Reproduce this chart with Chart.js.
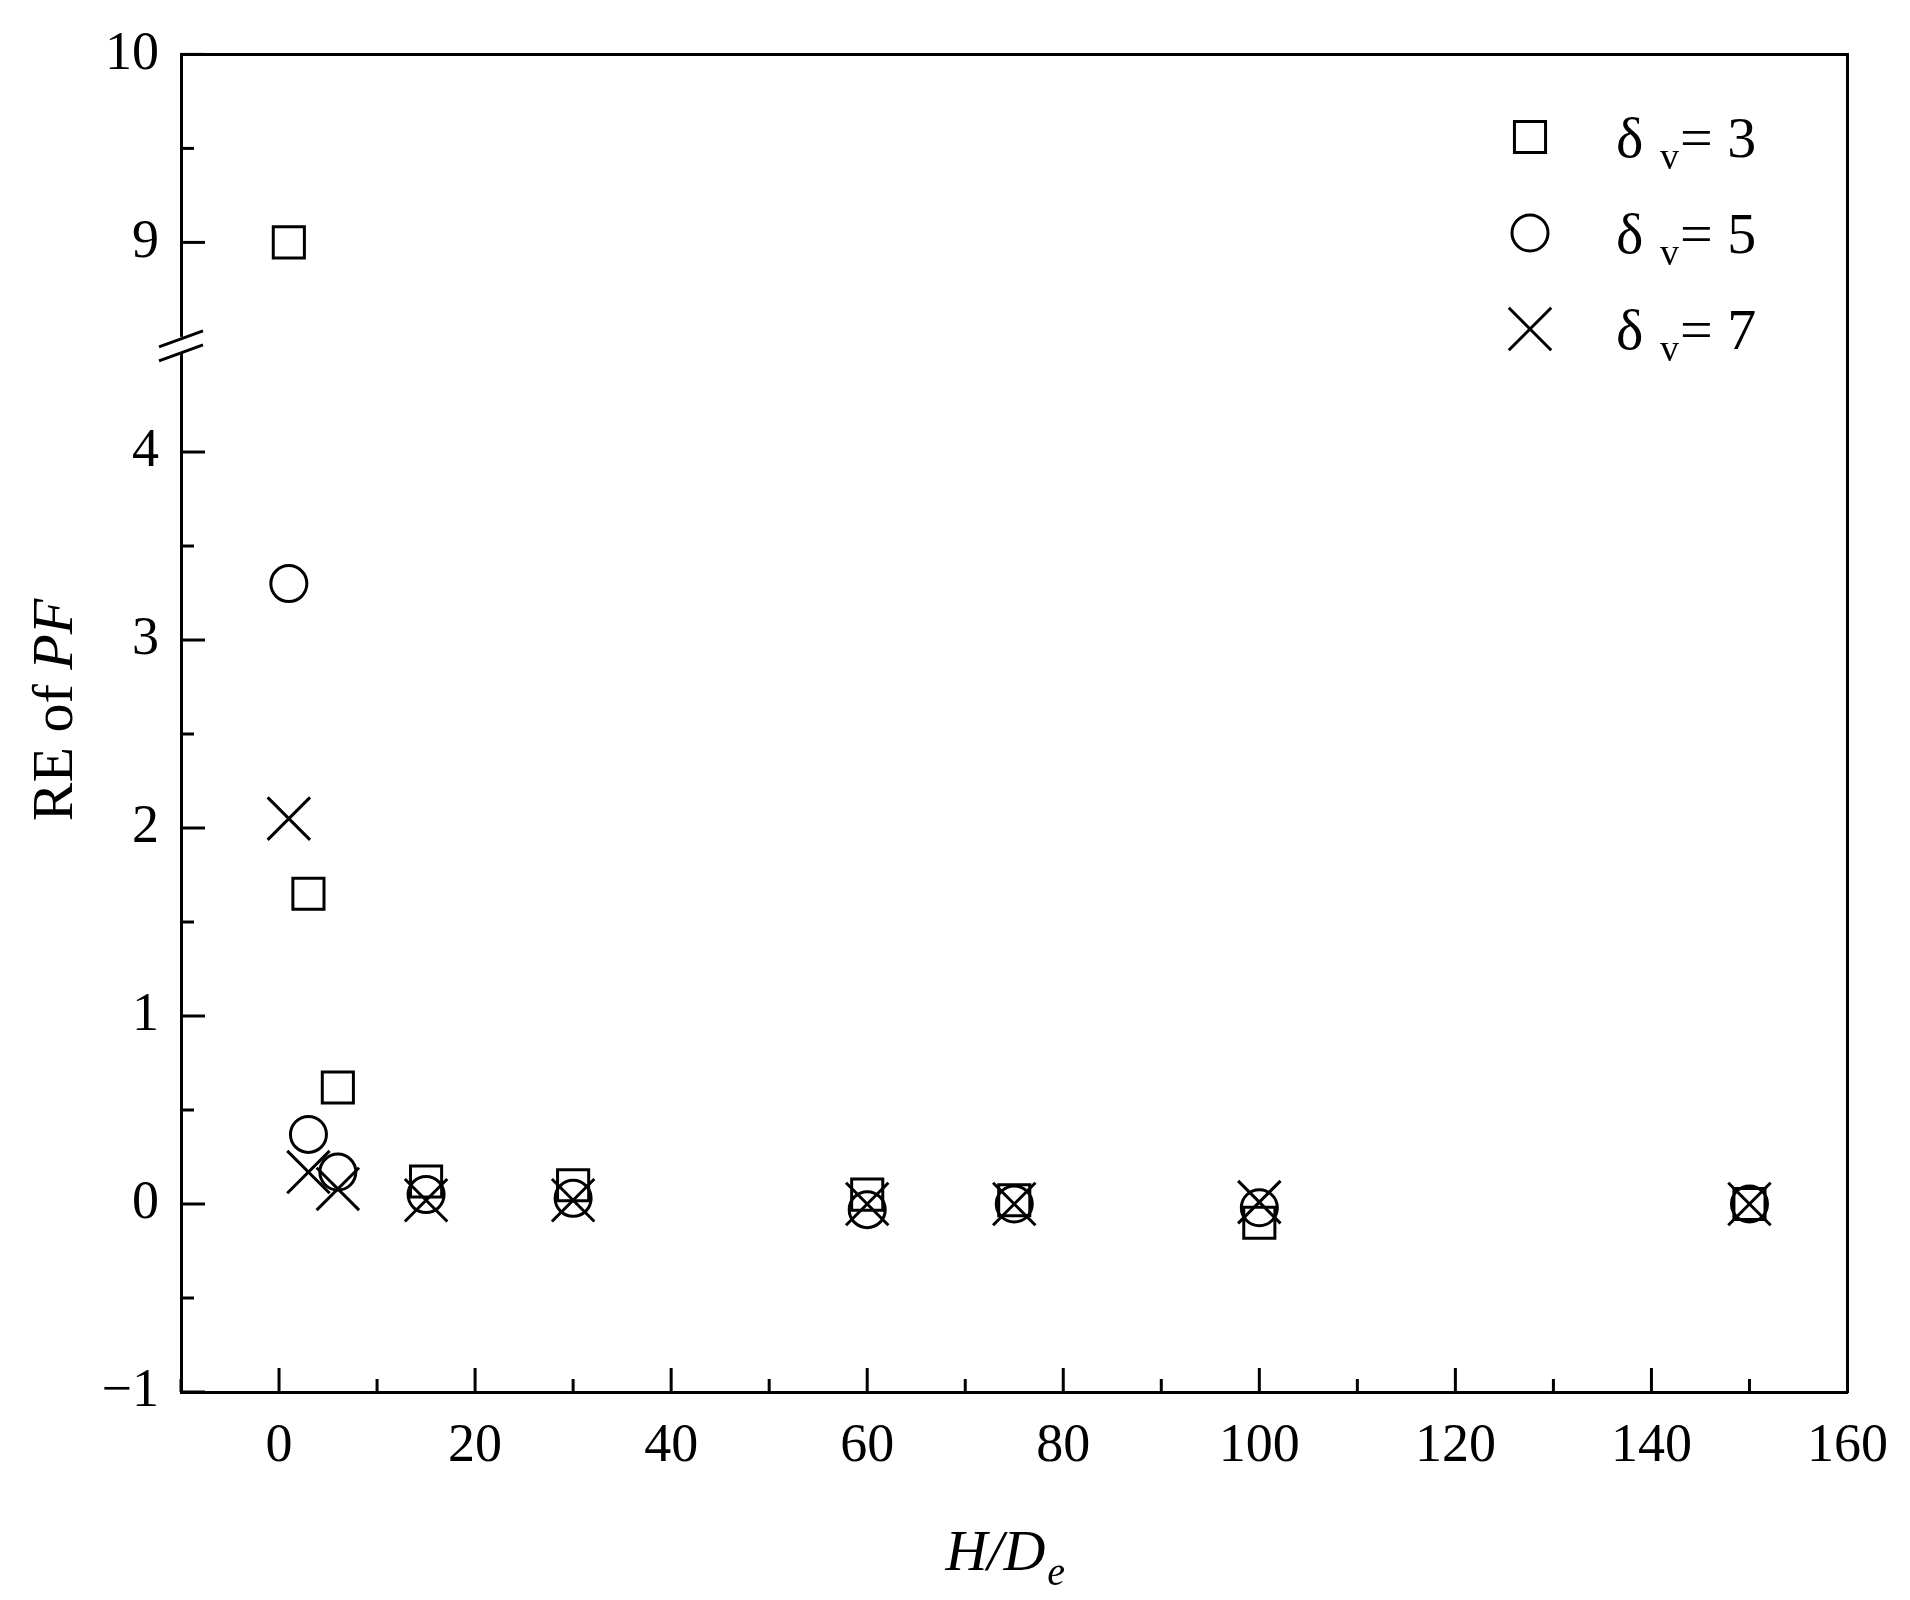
<!DOCTYPE html>
<html lang="en">
<head>
<meta charset="UTF-8">
<title>RE of PF vs H/De</title>
<script src="https://cdn.jsdelivr.net/npm/chart.js"></script>
<style>
  html, body { margin: 0; padding: 0; background: #fff; }
  #wrap { width: 1910px; height: 1600px; }
</style>
</head>
<body>
<div id="wrap"><canvas id="chart"></canvas></div>
<script>
// data
const hOverDe = [1, 3, 6, 15, 30, 60, 75, 100, 150];
const reDelta3 = [9.0, 1.65, 0.62, 0.12, 0.10, 0.05, 0.02, -0.10, 0.00];
const reDelta5 = [3.30, 0.37, 0.17, 0.05, 0.03, -0.03, 0.00, -0.02, 0.00];
const reDelta7 = [2.05, 0.17, 0.08, 0.02, 0.02, 0.00, 0.00, 0.01, 0.00];
const seriesLabels = ["3", "5", "7"];
const xMajorTicks = [0, 20, 40, 60, 80, 100, 120, 140, 160];
const yMajorTicks = [-1, 0, 1, 2, 3, 4, 9, 10];

// broken y axis: values above the break are shifted down
const BREAK_SHIFT = 3.885;
const BREAK_AT = 4.57;
const toAxis = v => (v > 4.6 ? v - BREAK_SHIFT : v);
const fromAxis = v => (v > BREAK_AT ? v + BREAK_SHIFT : v);

const pts = arr => hOverDe.map((x, i) => ({ x, y: toAxis(arr[i]) }));

const FONT = "'Liberation Serif', 'Times New Roman', serif";

const yMinor = [-0.5, 0.5, 1.5, 2.5, 3.5, 9.5];
const xMinor = [-10, 10, 30, 50, 70, 90, 110, 130, 150];

const decor = {
  id: "decor",
  afterDraw(chart) {
    const { ctx, chartArea: a, scales } = chart;
    const xs = scales.x, ys = scales.y;
    ctx.save();
    ctx.strokeStyle = "#000";
    ctx.lineWidth = 3;
    // inward ticks
    const yt = (v, len) => {
      const p = ys.getPixelForValue(toAxis(v));
      ctx.beginPath(); ctx.moveTo(a.left, p); ctx.lineTo(a.left + len, p); ctx.stroke();
    };
    yMajorTicks.forEach(v => yt(v, 24));
    yMinor.forEach(v => yt(v, 13));
    const xt = (v, len) => {
      const p = xs.getPixelForValue(v);
      ctx.beginPath(); ctx.moveTo(p, a.bottom); ctx.lineTo(p, a.bottom - len); ctx.stroke();
    };
    xMajorTicks.forEach(v => xt(v, 24));
    xMinor.forEach(v => xt(v, 13));

    // axis break
    const bp = ys.getPixelForValue(BREAK_AT);
    ctx.fillStyle = "#fff";
    ctx.fillRect(a.left - 6, bp - 8, 12, 16);
    ctx.beginPath();
    ctx.moveTo(a.left - 22, bp + 2); ctx.lineTo(a.left + 22, bp - 14);
    ctx.moveTo(a.left - 22, bp + 16); ctx.lineTo(a.left + 22, bp);
    ctx.stroke();

    // axis titles
    ctx.fillStyle = "#000";
    ctx.textBaseline = "alphabetic";
    ctx.save();
    ctx.translate(72, 710);
    ctx.rotate(-Math.PI / 2);
    const t1 = "RE of ";
    ctx.font = "58px " + FONT;
    const w1 = ctx.measureText(t1).width;
    ctx.font = "italic 58px " + FONT;
    const w2 = ctx.measureText("PF").width;
    const sx = -(w1 + w2) / 2;
    ctx.font = "58px " + FONT;
    ctx.fillText(t1, sx, 0);
    ctx.font = "italic 58px " + FONT;
    ctx.fillText("PF", sx + w1, 0);
    ctx.restore();

    ctx.font = "italic 58px " + FONT;
    const xw = ctx.measureText("H/D").width;
    ctx.font = "italic 40px " + FONT;
    const ew = ctx.measureText("e").width;
    const xs0 = (a.left + a.right) / 2 - (xw + ew) / 2 - 10;
    ctx.font = "italic 58px " + FONT;
    ctx.fillText("H/D", xs0, 1570);
    ctx.font = "italic 40px " + FONT;
    ctx.fillText("e", xs0 + xw + 2, 1585);

    // legend
    chart.data.datasets.forEach((ds, i) => {
      const y = 137 + i * 96;
      ctx.save();
      ctx.fillStyle = "rgba(0,0,0,0)";
      ctx.strokeStyle = "#000";
      ctx.lineWidth = 3;
      Chart.helpers.drawPoint(ctx, {
        pointStyle: ds.pointStyle, radius: ds.pointRadius, rotation: 0, borderWidth: 3
      }, 1530, y);
      ctx.restore();
      ctx.fillStyle = "#000";
      ctx.font = "58px " + FONT;
      ctx.fillText("\u03b4", 1616, y + 20);
      ctx.font = "38px " + FONT;
      ctx.fillText("v", 1660, y + 32);
      ctx.font = "58px " + FONT;
      ctx.fillText("= " + seriesLabels[i], 1680, y + 20);
    });
    ctx.restore();
  }
};

const mk = (data, style, r) => ({
  data: pts(data),
  pointStyle: style,
  pointRadius: r,
  pointHoverRadius: r,
  pointBorderWidth: 3,
  pointBorderColor: "#000",
  pointBackgroundColor: "rgba(0,0,0,0)",
  showLine: false
});

new Chart(document.getElementById("chart"), {
  type: "scatter",
  data: {
    datasets: [
      mk(reDelta3, "rect", 22),
      mk(reDelta5, "circle", 18),
      mk(reDelta7, "crossRot", 30)
    ]
  },
  options: {
    responsive: true,
    maintainAspectRatio: false,
    animation: false,
    devicePixelRatio: 1,
    layout: { padding: { left: 10, right: 43, top: 19, bottom: 10 } },
    plugins: { legend: { display: false }, tooltip: { enabled: false } },
    scales: {
      x: {
        type: "linear",
        min: -10, max: 160,
        afterFit: s => { s.height = 198; },
        afterBuildTicks: s => { s.ticks = xMajorTicks.map(v => ({ value: v })); },
        grid: { display: false, drawTicks: false },
        border: { color: "#000", width: 3 },
        ticks: { color: "#000", font: { family: FONT, size: 54 }, padding: 22 }
      },
      y: {
        type: "linear",
        min: -1, max: 10 - BREAK_SHIFT,
        afterFit: s => { s.width = 171; },
        afterBuildTicks: s => { s.ticks = yMajorTicks.map(v => ({ value: toAxis(v) })); },
        grid: { display: false, drawTicks: false },
        border: { color: "#000", width: 3 },
        ticks: {
          color: "#000", font: { family: FONT, size: 54 }, padding: 22,
          callback: v => {
            const r = Math.round(fromAxis(v));
            return r < 0 ? "\u2212" + Math.abs(r) : String(r);
          }
        }
      },
      x2: { position: "top", display: true, min: -10, max: 160, grid: { display: false, drawTicks: false }, ticks: { display: false }, border: { color: "#000", width: 3 } },
      y2: { position: "right", display: true, min: -1, max: 6, grid: { display: false, drawTicks: false }, ticks: { display: false }, border: { color: "#000", width: 3 } }
    }
  },
  plugins: [decor]
});
</script>
</body>
</html>
